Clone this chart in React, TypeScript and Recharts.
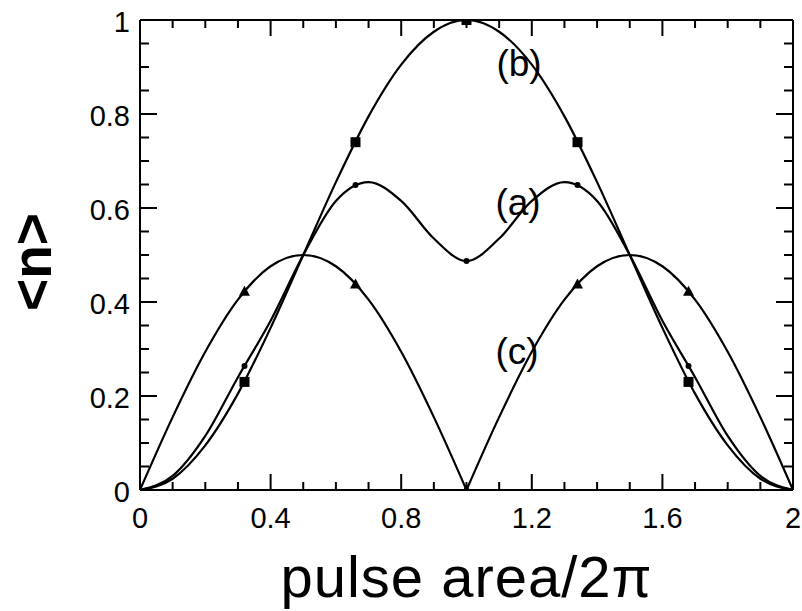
import React from "react"
import { ComposedChart, Line, Scatter, XAxis, YAxis, ReferenceDot } from "recharts"

// pulse area / 2π sampled along the curves
const pulseArea = [0, 0.1, 0.2, 0.3, 0.4, 0.5, 0.6, 0.7, 0.8, 0.9, 1, 1.1, 1.2, 1.3, 1.4, 1.5, 1.6, 1.7, 1.8, 1.9, 2]
const curveA = [0, 0.03, 0.115, 0.24, 0.36, 0.5, 0.615, 0.655, 0.615, 0.535, 0.487, 0.535, 0.615, 0.655, 0.615, 0.5, 0.36, 0.24, 0.115, 0.03, 0]
const curveB = [0, 0.024, 0.095, 0.205, 0.345, 0.5, 0.655, 0.795, 0.905, 0.975, 1, 0.975, 0.905, 0.795, 0.655, 0.5, 0.345, 0.205, 0.095, 0.024, 0]
const curveC = [0, 0.155, 0.294, 0.405, 0.476, 0.5, 0.476, 0.405, 0.294, 0.155, 0, 0.155, 0.294, 0.405, 0.476, 0.5, 0.476, 0.405, 0.294, 0.155, 0]

// symbols drawn on the curves
const markerArea = [0.32, 0.66, 1, 1.34, 1.68]
const markerA = [0.264, 0.649, 0.487, 0.649, 0.264]
const markerB = [0.23, 0.74, 1, 0.74, 0.23]
const markerC = [0.422, 0.437, 0, 0.437, 0.422]

const xTicks = [0, 0.1, 0.2, 0.3, 0.4, 0.5, 0.6, 0.7, 0.8, 0.9, 1, 1.1, 1.2, 1.3, 1.4, 1.5, 1.6, 1.7, 1.8, 1.9, 2]
const xLabels = [0, 0.4, 0.8, 1.2, 1.6, 2]
const yTicks = [0, 0.05, 0.1, 0.15, 0.2, 0.25, 0.3, 0.35, 0.4, 0.45, 0.5, 0.55, 0.6, 0.65, 0.7, 0.75, 0.8, 0.85, 0.9, 0.95, 1]
const yLabels = [0, 0.2, 0.4, 0.6, 0.8, 1]

const FONT = "'Liberation Sans', Arial, Helvetica, sans-serif"

const data = pulseArea.map((x, i) => ({
  x,
  a: curveA[i],
  b: curveB[i],
  cLeft: x <= 1 ? curveC[i] : null,
  cRight: x >= 1 ? curveC[i] : null,
}))

const toPoints = (ys: number[]) => markerArea.map((x, i) => ({ x, y: ys[i] }))

const isLabel = (list: number[], v: number) => list.some((t) => Math.abs(t - v) < 1e-6)

// ticks point into the plot on all four sides
const BottomTick = (props: any) => {
  const { x, y, payload } = props
  const major = isLabel(xLabels, payload.value)
  return (
    <g>
      <line x1={x} y1={y} x2={x} y2={y - (major ? 16 : 8)} stroke="#000" strokeWidth={2} />
      {major && (
        <text x={x} y={y + 38} textAnchor="middle" fontSize={29} fontFamily={FONT} fill="#000">
          {String(payload.value)}
        </text>
      )}
    </g>
  )
}

const TopTick = (props: any) => {
  const { x, y, payload } = props
  const major = isLabel(xLabels, payload.value)
  return <line x1={x} y1={y} x2={x} y2={y + (major ? 16 : 8)} stroke="#000" strokeWidth={2} />
}

const LeftTick = (props: any) => {
  const { x, y, payload } = props
  const major = isLabel(yLabels, payload.value)
  return (
    <g>
      <line x1={x} y1={y} x2={x + (major ? 17 : 9)} y2={y} stroke="#000" strokeWidth={2} />
      {major && (
        <text x={x - 10} y={y + 12} textAnchor="end" fontSize={29} fontFamily={FONT} fill="#000">
          {String(payload.value)}
        </text>
      )}
    </g>
  )
}

const RightTick = (props: any) => {
  const { x, y, payload } = props
  const major = isLabel(yLabels, payload.value)
  return <line x1={x} y1={y} x2={x - (major ? 17 : 9)} y2={y} stroke="#000" strokeWidth={2} />
}

const YTitle = () => (
  <text
    x={32}
    y={262}
    transform="rotate(-90 32 262)"
    textAnchor="middle"
    dominantBaseline="central"
    fontSize={55}
    fontWeight="bold"
    fontFamily={FONT}
    fill="#000"
  >
    {"<n>"}
  </text>
)

const Square = (props: any) => <rect x={props.cx - 5} y={props.cy - 5} width={10} height={10} fill="#000" />
const Dot = (props: any) => <circle cx={props.cx} cy={props.cy} r={3} fill="#000" />
const Triangle = (props: any) => (
  <path d={`M${props.cx},${props.cy - 6} L${props.cx + 5.5},${props.cy + 4} L${props.cx - 5.5},${props.cy + 4} Z`} fill="#000" />
)

const axisLine = { stroke: "#000", strokeWidth: 2 }
const curve = { type: "monotone" as const, stroke: "#000", strokeWidth: 2.2, dot: false, activeDot: false, isAnimationActive: false }

export default function App() {
  return (
    <div style={{ position: "absolute", left: 0, top: 0, background: "#fff" }}>
      <ComposedChart width={802} height={611} data={data} margin={{ top: 19, right: 8, left: 0, bottom: 0 }}>
        <XAxis
          dataKey="x"
          type="number"
          domain={[0, 2]}
          ticks={xTicks}
          interval={0}
          height={121}
          tickSize={0}
          tickMargin={0}
          tickLine={false}
          axisLine={axisLine}
          tick={(p: any) => <BottomTick {...p} />}
          label={{ value: "pulse area/2π", position: "insideBottom", offset: 14, fontSize: 58, fontFamily: FONT, fill: "#000", letterSpacing: 1 }}
        />
        <XAxis
          xAxisId="top"
          orientation="top"
          dataKey="x"
          type="number"
          domain={[0, 2]}
          allowDataOverflow
          ticks={xTicks}
          interval={0}
          height={1}
          tickSize={0}
          tickMargin={0}
          tickLine={false}
          axisLine={axisLine}
          tick={(p: any) => <TopTick {...p} />}
        />
        <YAxis
          type="number"
          domain={[0, 1]}
          allowDataOverflow
          ticks={yTicks}
          interval={0}
          width={140}
          tickSize={0}
          tickMargin={0}
          tickLine={false}
          axisLine={axisLine}
          tick={(p: any) => <LeftTick {...p} />}
          label={{ content: () => <YTitle /> }}
        />
        <YAxis
          yAxisId="right"
          orientation="right"
          type="number"
          domain={[0, 1]}
          allowDataOverflow
          ticks={yTicks}
          interval={0}
          width={1}
          tickSize={0}
          tickMargin={0}
          tickLine={false}
          axisLine={axisLine}
          tick={(p: any) => <RightTick {...p} />}
        />

        {/* invisible copy of (b) so the top and right frame axes get drawn */}
        <Line xAxisId="top" yAxisId="right" dataKey="b" stroke="none" dot={false} activeDot={false} isAnimationActive={false} />

        <Line dataKey="b" {...curve} />
        <Line dataKey="a" {...curve} />
        <Line dataKey="cLeft" {...curve} connectNulls={false} />
        <Line dataKey="cRight" {...curve} connectNulls={false} />

        <Scatter data={toPoints(markerB)} dataKey="y" shape={Square} isAnimationActive={false} />
        <Scatter data={toPoints(markerA)} dataKey="y" shape={Dot} isAnimationActive={false} />
        <Scatter data={toPoints(markerC)} dataKey="y" shape={Triangle} isAnimationActive={false} />

        <ReferenceDot x={1.161} y={0.909} r={0} ifOverflow="visible"
          label={{ value: "(b)", position: "center", fontSize: 37, fontFamily: FONT, fill: "#000" }} />
        <ReferenceDot x={1.158} y={0.613} r={0} ifOverflow="visible"
          label={{ value: "(a)", position: "center", fontSize: 37, fontFamily: FONT, fill: "#000" }} />
        <ReferenceDot x={1.155} y={0.296} r={0} ifOverflow="visible"
          label={{ value: "(c)", position: "center", fontSize: 37, fontFamily: FONT, fill: "#000" }} />
      </ComposedChart>
    </div>
  )
}
